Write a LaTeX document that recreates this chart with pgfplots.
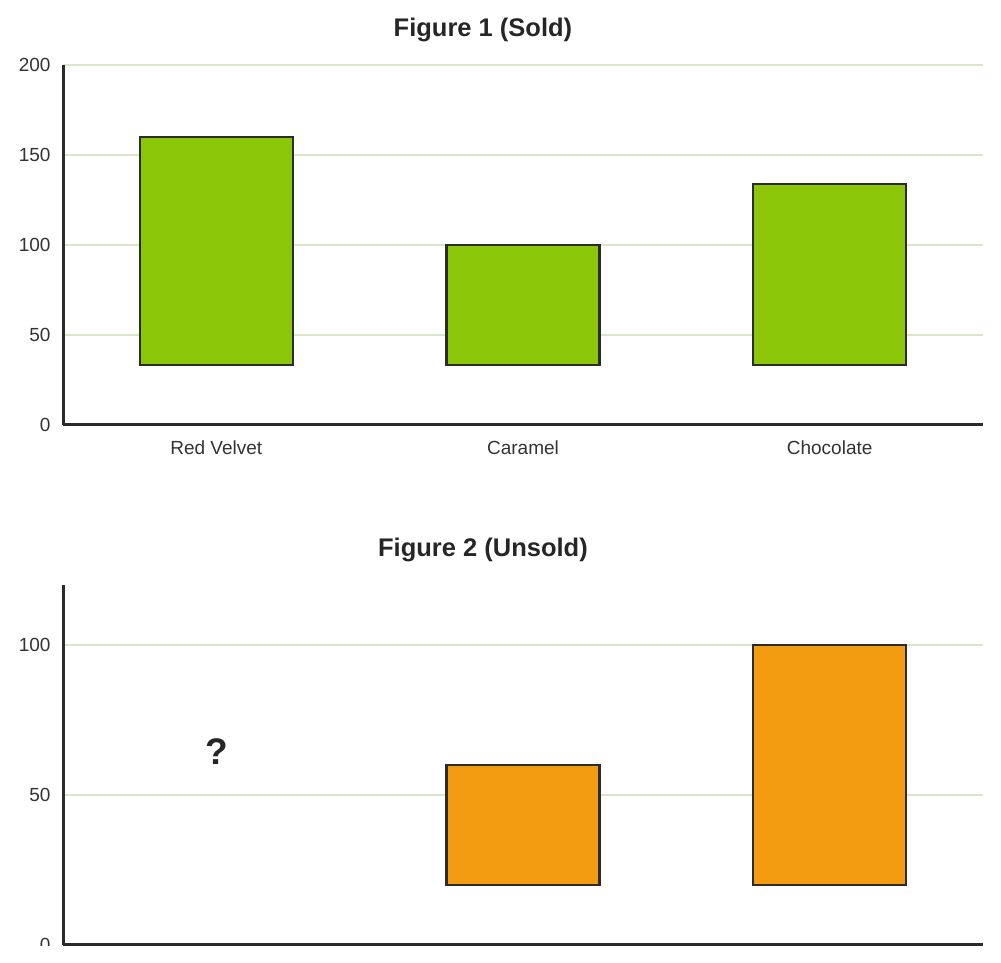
\documentclass[border=0pt]{standalone}
\usepackage{fontspec}
\setmainfont{Liberation Sans}
\usepackage{pgfplots}
\pgfplotsset{compat=1.18}
\usepackage{pgfplotstable}
\definecolor{barGreen}{HTML}{8BC708}
\definecolor{barOrange}{HTML}{F39C12}
\definecolor{gridGreen}{HTML}{D6E8C8}
\definecolor{axisDark}{HTML}{2B2B2B}
\definecolor{textDark}{HTML}{333333}
\definecolor{titleDark}{HTML}{262626}

\pgfplotstableread{
x low high
0 33.3 160
1 33.3 100
2 33.3 134
}\sold
\pgfplotstableread{
x low high
1 20 60
2 20 100
}\unsold

\pgfplotsset{cakestyle/.style={
  scale only axis, width=920pt, height=360pt,
  xmin=-0.5, xmax=2.5,
  axis lines*=left,
  axis line style={draw=axisDark, line width=3pt},
  ymajorgrids, grid style={draw=gridGreen, line width=1.5pt},
  major tick length=0pt,
  xtick={0,1,2},
  ybar stacked, bar width=153pt,
  tick label style={font=\fontsize{19}{22}\selectfont, text=textDark},
  /pgf/number format/assume math mode=true,
  yticklabel style={xshift=-9pt},
  xticklabel style={yshift=-12pt},
  every axis title/.style={at={(0.4565,1)}, anchor=base, yshift=28pt,
    font=\fontsize{25.5}{30}\selectfont\bfseries, text=titleDark},
}}

\begin{document}
\begin{tikzpicture}
\path[use as bounding box] (0,0) rectangle (1001pt,963pt);
\begin{scope}
\clip (0,17pt) rectangle (1001pt,963pt);
\begin{axis}[cakestyle,
  at={(63pt,538pt)}, anchor=south west,
  ymin=0, ymax=200, ytick={0,50,100,150,200},
  xticklabels={Red Velvet, Caramel, Chocolate},
  title={Figure 1 (Sold)}]
\addplot[draw=none, fill=none] table[x=x, y=low]{\sold};
\addplot[fill=barGreen, draw=axisDark, line width=2.2pt] table[x=x, y expr=\thisrow{high}-\thisrow{low}]{\sold};
\end{axis}
\begin{axis}[cakestyle,
  at={(63pt,18pt)}, anchor=south west,
  ymin=0, ymax=120, ytick={0,50,100},
  xticklabels={},
  title={Figure 2 (Unsold)}]
\addplot[draw=none, fill=none] table[x=x, y=low]{\unsold};
\addplot[fill=barOrange, draw=axisDark, line width=2.2pt] table[x=x, y expr=\thisrow{high}-\thisrow{low}]{\unsold};
\node[font=\fontsize{37}{40}\selectfont\bfseries, text=titleDark, anchor=base] at (axis cs:0,60) {?};
\end{axis}
\end{scope}
\end{tikzpicture}
\end{document}
